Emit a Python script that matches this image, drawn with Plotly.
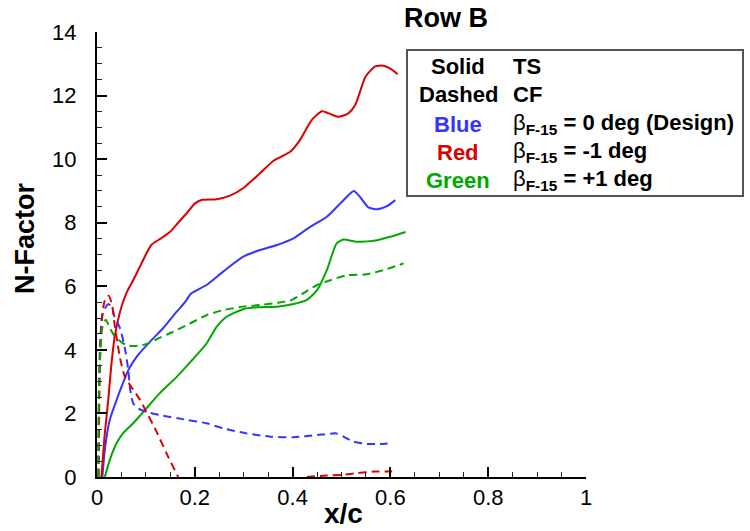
import plotly.graph_objects as go

# ---- N-factor envelopes along the chord, Row B ----
# TS (solid)
ts_blue_x = [0.011, 0.016, 0.026, 0.040, 0.053, 0.064, 0.081, 0.108, 0.135, 0.149, 0.163, 0.180, 0.193,
             0.224, 0.258, 0.299, 0.333, 0.368, 0.402, 0.436, 0.470, 0.504, 0.525, 0.538, 0.555, 0.573,
             0.593, 0.610]
ts_blue_y = [0.00, 0.85, 1.79, 2.42, 2.95, 3.36, 3.78, 4.25, 4.68, 4.94, 5.20, 5.50, 5.78,
             6.04, 6.46, 6.93, 7.14, 7.30, 7.51, 7.87, 8.19, 8.71, 9.00, 8.81, 8.48, 8.42,
             8.52, 8.71]

ts_red_x = [0.009, 0.016, 0.023, 0.029, 0.036, 0.043, 0.052, 0.062, 0.074, 0.091, 0.111, 0.130, 0.149,
            0.166, 0.183, 0.200, 0.215, 0.245, 0.272, 0.300, 0.333, 0.361, 0.395, 0.415, 0.439, 0.460,
            0.474, 0.494, 0.514, 0.528, 0.549, 0.569, 0.586, 0.600, 0.615]
ts_red_y = [0.00, 1.37, 2.42, 3.47, 4.40, 4.94, 5.45, 5.85, 6.19, 6.72, 7.30, 7.50, 7.71,
            8.00, 8.29, 8.60, 8.72, 8.74, 8.85, 9.10, 9.55, 9.95, 10.23, 10.60, 11.23, 11.51,
            11.44, 11.33, 11.44, 11.70, 12.59, 12.92, 12.94, 12.85, 12.67]

ts_green_x = [0.016, 0.026, 0.040, 0.053, 0.074, 0.101, 0.128, 0.163, 0.204, 0.224, 0.245, 0.265, 0.299,
              0.327, 0.368, 0.402, 0.429, 0.450, 0.470, 0.490, 0.504, 0.532, 0.573, 0.600, 0.631]
ts_green_y = [0.00, 0.53, 1.06, 1.37, 1.69, 2.16, 2.63, 3.15, 3.84, 4.20, 4.73, 5.04, 5.28,
              5.34, 5.36, 5.44, 5.57, 5.88, 6.51, 7.35, 7.47, 7.40, 7.45, 7.56, 7.71]

# CF (dashed)
cf_blue_x = [0.003, 0.006, 0.012, 0.023, 0.030, 0.036, 0.047, 0.057, 0.064, 0.068, 0.074, 0.085, 0.101,
             0.128, 0.183, 0.224, 0.258, 0.306, 0.354, 0.402, 0.450, 0.490, 0.504, 0.525, 0.552, 0.579,
             0.600]
cf_blue_y = [0.00, 4.10, 5.15, 5.44, 5.35, 5.04, 4.68, 4.05, 3.36, 2.74, 2.32, 2.15, 2.05,
             1.95, 1.80, 1.69, 1.53, 1.37, 1.27, 1.25, 1.32, 1.37, 1.27, 1.11, 1.04, 1.04,
             1.06]

cf_red_x = [0.003, 0.006, 0.010, 0.016, 0.024, 0.031, 0.036, 0.042, 0.047, 0.057, 0.070, 0.087, 0.101,
            0.122, 0.142, 0.166, None,
            0.429, 0.463, 0.504, 0.532, 0.566, 0.600, 0.607]
cf_red_y = [0.00, 3.60, 5.00, 5.55, 5.70, 5.40, 4.80, 4.20, 3.75, 3.15, 2.84, 2.45, 2.05,
            1.42, 0.75, 0.00, None,
            0.00, 0.04, 0.07, 0.12, 0.17, 0.17, 0.17]

cf_green_x = [0.002, 0.003, 0.004, 0.007, 0.011, 0.018, 0.026, 0.035, 0.047, 0.060, 0.075, 0.090, 0.108,
              0.125, 0.156, 0.190, 0.224, 0.258, 0.299, 0.340, 0.368, 0.395, 0.429, 0.450, 0.477, 0.511,
              0.552, 0.586, 0.627]
cf_green_y = [0.00, 1.40, 2.95, 4.00, 4.70, 4.95, 4.70, 4.45, 4.28, 4.15, 4.12, 4.14, 4.22,
              4.36, 4.57, 4.83, 5.09, 5.25, 5.36, 5.42, 5.48, 5.55, 5.85, 6.04, 6.19, 6.35,
              6.38, 6.51, 6.72]

BLUE = "#3535ff"
RED = "#dd0000"
GREEN = "#00a800"
FONT = "Liberation Sans, Arial, sans-serif"
DASH = "8px,5px"

fig = go.Figure()

series = [
    (ts_blue_x, ts_blue_y, BLUE, "solid"),
    (ts_red_x, ts_red_y, RED, "solid"),
    (ts_green_x, ts_green_y, GREEN, "solid"),
    (cf_blue_x, cf_blue_y, BLUE, DASH),
    (cf_red_x, cf_red_y, RED, DASH),
    (cf_green_x, cf_green_y, GREEN, DASH),
]
for xs, ys, color, dash in series:
    fig.add_trace(go.Scatter(
        x=xs, y=ys, mode="lines",
        line=dict(color=color, width=2, dash=dash, shape="spline", smoothing=0.6),
        showlegend=False, hoverinfo="skip",
    ))

# plot box in pixels: left 97, right 586, top 32, bottom 477
W, H = 750, 531
L, R, T, B = 97, 164, 32, 54
PW, PH = W - L - R, H - T - B


def px(x):
    return (x - L) / PW


def py(y):
    return (H - B - y) / PH


TICKFONT = dict(family=FONT, size=22, color="black")

fig.update_xaxes(
    range=[0, 1], dtick=0.2, showgrid=False, zeroline=False,
    showline=True, linecolor="black", linewidth=2,
    ticks="inside", ticklen=10, tickwidth=2, tickcolor="black", tickfont=TICKFONT,
    minor=dict(ticks="inside", ticklen=5, tickwidth=1, tickcolor="#222222", dtick=0.05),
)
fig.update_yaxes(
    range=[0, 14], dtick=2, showgrid=False, zeroline=False,
    showline=True, linecolor="black", linewidth=2,
    ticks="inside", ticklen=10, tickwidth=2, tickcolor="black", tickfont=TICKFONT,
    ticklabelstandoff=14,
    minor=dict(ticks="inside", ticklen=5, tickwidth=1, tickcolor="#222222", dtick=0.5),
)

annotations = []
# title and axis titles
annotations.append(dict(text="<b>Row B</b>", x=px(446), y=py(18), xref="paper", yref="paper",
                        showarrow=False, font=dict(family=FONT, size=27, color="black"),
                        xanchor="center", yanchor="middle"))
annotations.append(dict(text="<b>x/c</b>", x=px(343), y=py(513), xref="paper", yref="paper",
                        showarrow=False, font=dict(family=FONT, size=28, color="black"),
                        xanchor="center", yanchor="middle"))
annotations.append(dict(text="<b>N-Factor</b>", x=px(25), y=py(239), xref="paper", yref="paper",
                        showarrow=False, textangle=-90, font=dict(family=FONT, size=27, color="black"),
                        xanchor="center", yanchor="middle"))

# key box text
key_left = ["Solid", "Dashed", "Blue", "Red", "Green"]
key_left_colors = ["black", "black", BLUE, RED, GREEN]
key_right = ["TS", "CF",
             "β<sub>F-15</sub> = 0 deg (Design)",
             "β<sub>F-15</sub> = -1 deg",
             "β<sub>F-15</sub> = +1 deg"]
key_rows = [67, 95, 124, 152, 180]
for lbl, col, rtxt, yy in zip(key_left, key_left_colors, key_right, key_rows):
    annotations.append(dict(text=f"<b>{lbl}</b>", x=px(458), y=py(yy), xref="paper", yref="paper",
                            showarrow=False, font=dict(family=FONT, size=22, color=col),
                            xanchor="center", yanchor="middle"))
    if rtxt.startswith("β"):
        html = f"β<b>{rtxt[1:]}</b>"
    else:
        html = f"<b>{rtxt}</b>"
    annotations.append(dict(text=html, x=px(511), y=py(yy), xref="paper", yref="paper",
                            showarrow=False, font=dict(family=FONT, size=22, color="black"),
                            xanchor="left", yanchor="middle"))

fig.update_layout(
    width=W, height=H,
    margin=dict(l=L, r=R, t=T, b=B, autoexpand=False),
    paper_bgcolor="white", plot_bgcolor="white",
    annotations=annotations,
    shapes=[dict(type="rect", xref="paper", yref="paper",
                 x0=px(407), x1=px(743), y0=py(196), y1=py(50),
                 line=dict(color="#555555", width=2), fillcolor="rgba(0,0,0,0)")],
)

fig.write_html("out.html")
